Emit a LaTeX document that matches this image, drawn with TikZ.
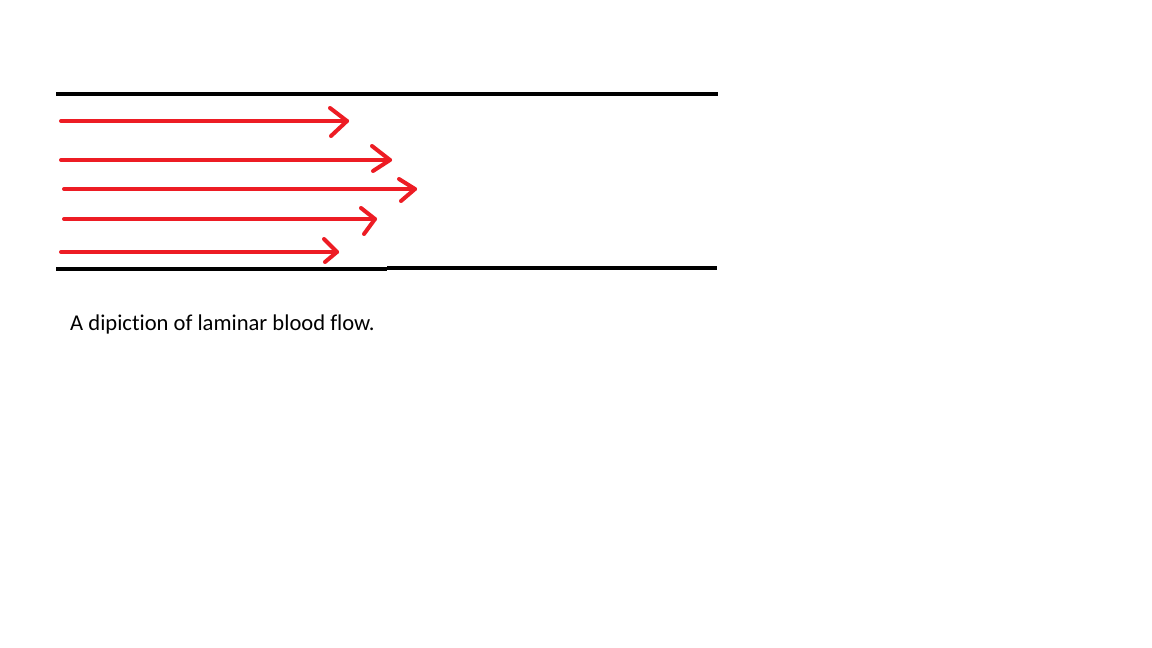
\documentclass[tikz,border=0pt]{standalone}
\usepackage{fontspec}
\setmainfont{Carlito}[Ligatures={NoCommon,NoContextual}]
\definecolor{flowred}{RGB}{237,28,36}
\tikzset{
  wall/.style={line width=4pt, black},
  flow/.style={line width=4pt, flowred, line cap=round, line join=round},
}
\begin{document}
\begin{tikzpicture}[x=1pt,y=-1pt]
\useasboundingbox[fill=white] (0,0) rectangle (1152,648);
% vessel walls
\coordinate (tl) at (56,94); \coordinate (tr) at (718,94);
\coordinate (bl) at (56,269); \coordinate (bm) at (387,269);
\coordinate (bm2) at (387,267.5); \coordinate (br) at (717,267.5);
\draw[wall] (tl) -- (tr);
\draw[wall] (bl) -- (bm);
\draw[wall] (bm2) -- (br);
% flow arrows
\foreach \n/\xs/\y/\xe/\ax/\ay/\bx/\by in {
  a/61/121/347/330/108/331/136,
  b/61/160/390/372/146/373/171,
  c/64/189/415/399/179/401/201,
  d/64/219/375/361/208/364/234,
  e/61/252/337/324/239/325/262}{
  \coordinate (\n s) at (\xs,\y);
  \coordinate (\n e) at (\xe,\y);
  \coordinate (\n u) at (\ax,\ay);
  \coordinate (\n l) at (\bx,\by);
  \draw[flow] (\n s) -- (\n e);
  \draw[flow] (\n u) -- (\n e) -- (\n l);
}
\node[anchor=base west, inner sep=0pt, font=\fontsize{22.6}{27}\selectfont] (cap) at (70,330) {A dipiction of laminar blood flow.};
\end{tikzpicture}
\end{document}
